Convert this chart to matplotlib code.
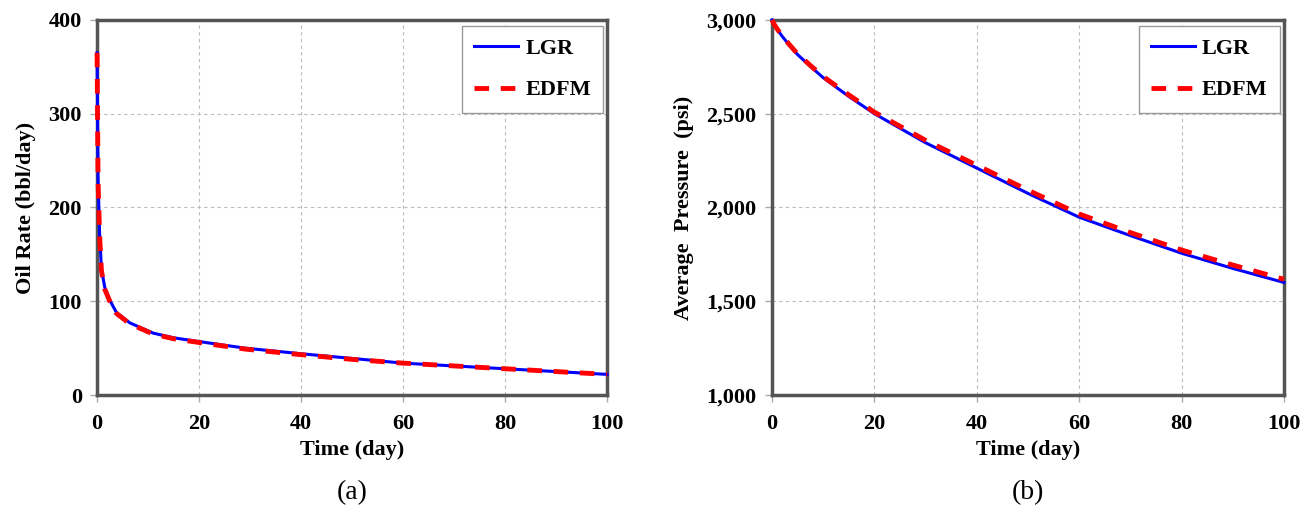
import matplotlib
matplotlib.use("Agg")
import matplotlib.pyplot as plt
import numpy as np

plt.rcParams['font.family'] = ['Liberation Serif', 'DejaVu Serif']

# Oil rate (panel a)
t_rate = [0, 0.2, 0.5, 0.85, 1.5, 2.5, 3.8, 6.4, 11, 15, 20, 29, 40, 50, 60, 70, 80, 90, 100]
rate_lgr = [365, 230, 172, 135, 115, 101, 88, 77, 66, 61, 57, 50, 44, 39, 34, 31, 28, 25, 22]
rate_edfm = [365, 228, 170, 133, 113, 100, 87, 76, 65, 60, 56, 49, 43, 38, 34, 31, 28, 25, 22]

# Average pressure (panel b)
t_pres = [0, 0.5, 1, 2, 3.5, 5, 7.5, 10, 15, 20, 30, 40, 50, 60, 70, 80, 90, 100]
pres_lgr = [3000, 2972, 2950, 2912, 2862, 2815, 2752, 2692, 2592, 2500, 2345, 2210, 2075, 1948, 1850, 1756, 1675, 1600]
pres_edfm = [3000, 2973, 2952, 2914, 2865, 2819, 2757, 2698, 2600, 2508, 2358, 2225, 2092, 1965, 1866, 1773, 1693, 1617]

x_ticks = [0, 20, 40, 60, 80, 100]
rate_ticks = [0, 100, 200, 300, 400]
pres_ticks = [1000, 1500, 2000, 2500, 3000]

fig = plt.figure(figsize=(13.01, 5.11), dpi=100)
ax1 = fig.add_axes([0.0746, 0.227, 0.392, 0.734])
ax2 = fig.add_axes([0.5934, 0.227, 0.3935, 0.734])

def estilo(ax, yticks, ylabel, fmt, letra):
    ax.set_xlim(0, 100)
    ax.set_ylim(yticks[0], yticks[-1])
    ax.set_xticks(x_ticks)
    ax.set_yticks(yticks)
    ax.set_yticklabels([fmt(v) for v in yticks], fontsize=16, fontweight='bold')
    ax.set_xticklabels([str(v) for v in x_ticks], fontsize=16, fontweight='bold')
    ax.grid(True, color='#bbbbbb', linestyle=(0, (3, 3)), linewidth=0.8)
    ax.set_axisbelow(True)
    for s in ax.spines.values():
        s.set_color('#555555')
        s.set_linewidth(2.5)
    ax.tick_params(length=5, width=1, color='#aaaaaa', pad=6)
    ax.tick_params(axis='x', pad=9)
    ax.set_xlabel("Time (day)", fontsize=16, fontweight='bold', labelpad=4)
    ax.set_ylabel(ylabel, fontsize=16, fontweight='bold', labelpad=9)
    ax.text(0.5, -0.26, letra, transform=ax.transAxes, ha='center', va='center', fontsize=20)
    leg = ax.legend(loc='upper right', prop={'weight': 'bold', 'size': 16},
                    fancybox=False, framealpha=1, edgecolor='#999999',
                    handlelength=2.0, handletextpad=0.3, borderpad=0.55, labelspacing=0.95,
                    borderaxespad=0, bbox_to_anchor=(0.992, 0.984))
    leg.get_frame().set_linewidth(1)

ax1.plot(t_rate, rate_lgr, color='#0000ff', linewidth=2.2, label='LGR', clip_on=False, zorder=3)
ax1.plot(t_rate, rate_edfm, color='#ff0000', linewidth=3.5, linestyle=(0, (3, 2.4)), label='EDFM', clip_on=False, zorder=4)
estilo(ax1, rate_ticks, "Oil Rate (bbl/day)", lambda v: str(v), "(a)")

ax2.plot(t_pres, pres_lgr, color='#0000ff', linewidth=2.2, label='LGR', clip_on=False, zorder=3)
ax2.plot(t_pres, pres_edfm, color='#ff0000', linewidth=3.5, linestyle=(0, (3, 2.4)), label='EDFM', clip_on=False, zorder=4)
estilo(ax2, pres_ticks, "Average  Pressure  (psi)", lambda v: f"{v:,}", "(b)")

fig.savefig("out.png", dpi=100)
